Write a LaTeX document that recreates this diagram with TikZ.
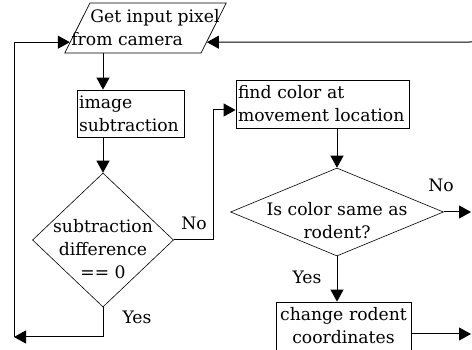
\documentclass[tikz,border=0pt]{standalone}
\usepackage{fontspec}
\setmainfont{DejaVu Serif}
\usetikzlibrary{arrows.meta,shapes.geometric,calc}

\begin{document}
\begin{tikzpicture}[
    x=1pt,y=-1pt,
    every node/.style={font=\fontsize{17.2}{23}\selectfont},
    io/.style={
      draw, line width=0.7pt,
      trapezium, trapezium left angle=67, trapezium right angle=113,
      trapezium stretches=true,
      minimum width=163pt, minimum height=50pt,
      inner xsep=-40pt, inner ysep=0pt, align=left
    },
    stepbox/.style={draw, line width=0.8pt, inner xsep=2pt, inner ysep=0pt},
    decision/.style={draw, line width=0.6pt, diamond, inner sep=-70pt, align=center},
    flow/.style={line width=1pt,-{Triangle[length=12pt,width=13pt]}}
  ]
    \useasboundingbox (0,0) rectangle (472,350);

    % left column
    \node[io] (input) at (145.5,28)
      {\hspace*{19pt}Get input pixel\\from camera};
    \node[stepbox,text width=103pt,minimum height=47pt,align=left] (subtract) at (130.5,113.5)
      {image\\subtraction};
    \node[decision,minimum width=141pt,minimum height=134pt,text height=77pt] (diff) at (103,240)
      {subtraction\\difference\\== 0};

    % right column
    \node[stepbox,text width=169pt,minimum height=48pt,align=left] (findcolor) at (322.5,104)
      {find color at\\movement location};
    \node[decision,minimum width=213pt,minimum height=88pt,text height=54pt] (same) at (337,212)
      {Is color same as\\rodent?};
    \node[stepbox,text width=131pt,minimum height=48pt,align=center] (change) at (343.5,326)
      {change rodent\\coordinates};

    % labels
    \node (nodiff) at (194,223) {No};
    \node (yesdiff) at (137,317) {Yes};
    \node (nosame) at (441,185) {No};
    \node (yessame) at (307,277) {Yes};

    % loose ends
    \coordinate (loop) at (14,337);
    \coordinate (back) at (472,42);
    \coordinate (outno) at (471,212);
    \coordinate (outdone) at (471,334);

    \draw[flow] (diff.north |- input.south) -- (diff.north |- subtract.north);
    \draw[flow] (diff.north |- subtract.south) -- (diff.north);
    \draw[flow] (diff.east) -- ++(40,0) |- ([yshift=-6pt]findcolor.west);
    \draw[flow] (diff.south) |- (loop);
    \draw[flow] (loop) |- ($(input.bottom left corner)!0.22!(input.top left corner)$);
    \draw[flow] (back) -- ($(input.bottom right corner)!0.22!(input.top right corner)$);
    \draw[flow] (same.north |- findcolor.south) -- (same.north);
    \draw[flow] (same.east) -- (outno);
    \draw[flow] (same.south) -- (same.south |- change.north);
    \draw[flow] (change.east |- outdone) -- (outdone);
\end{tikzpicture}
\end{document}
